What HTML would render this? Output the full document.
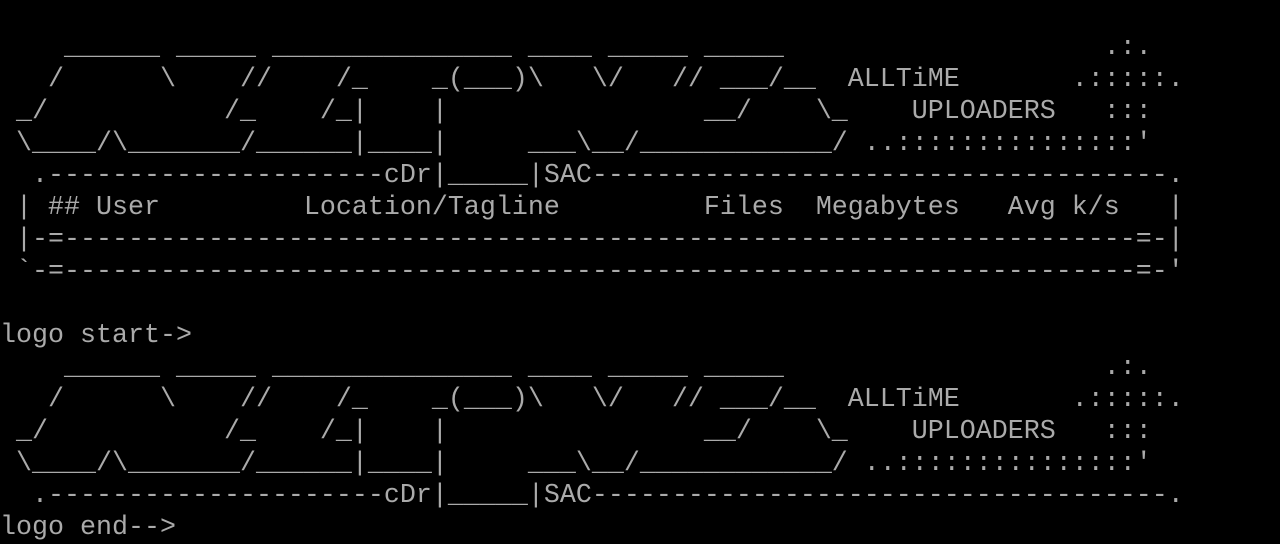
<!DOCTYPE html>
<html><head><meta charset="utf-8"><style>
html,body{margin:0;padding:0;background:#000;width:1280px;height:544px;overflow:hidden}
pre{margin:0;position:absolute;left:0;top:0;font-family:"Liberation Mono",monospace;font-size:26.66px;line-height:32px;color:#aaa;white-space:pre}
</style></head><body><pre>

    ______ _____ _______________ ____ _____ _____                    .:.
   /      \    //    /_    _(___)\   \/   // ___/__  ALLTiME       .:::::.
 _/           /_    /_|    |                __/    \_    UPLOADERS   :::
 \____/\_______/______|____|     ___\__/____________/ ..:::::::::::::::'
  .---------------------cDr|_____|SAC------------------------------------.
 | ## User         Location/Tagline         Files  Megabytes   Avg k/s   |
 |-=-------------------------------------------------------------------=-|
 `-=-------------------------------------------------------------------=-'

logo start-&gt;
    ______ _____ _______________ ____ _____ _____                    .:.
   /      \    //    /_    _(___)\   \/   // ___/__  ALLTiME       .:::::.
 _/           /_    /_|    |                __/    \_    UPLOADERS   :::
 \____/\_______/______|____|     ___\__/____________/ ..:::::::::::::::'
  .---------------------cDr|_____|SAC------------------------------------.
logo end--&gt;</pre></body></html>
